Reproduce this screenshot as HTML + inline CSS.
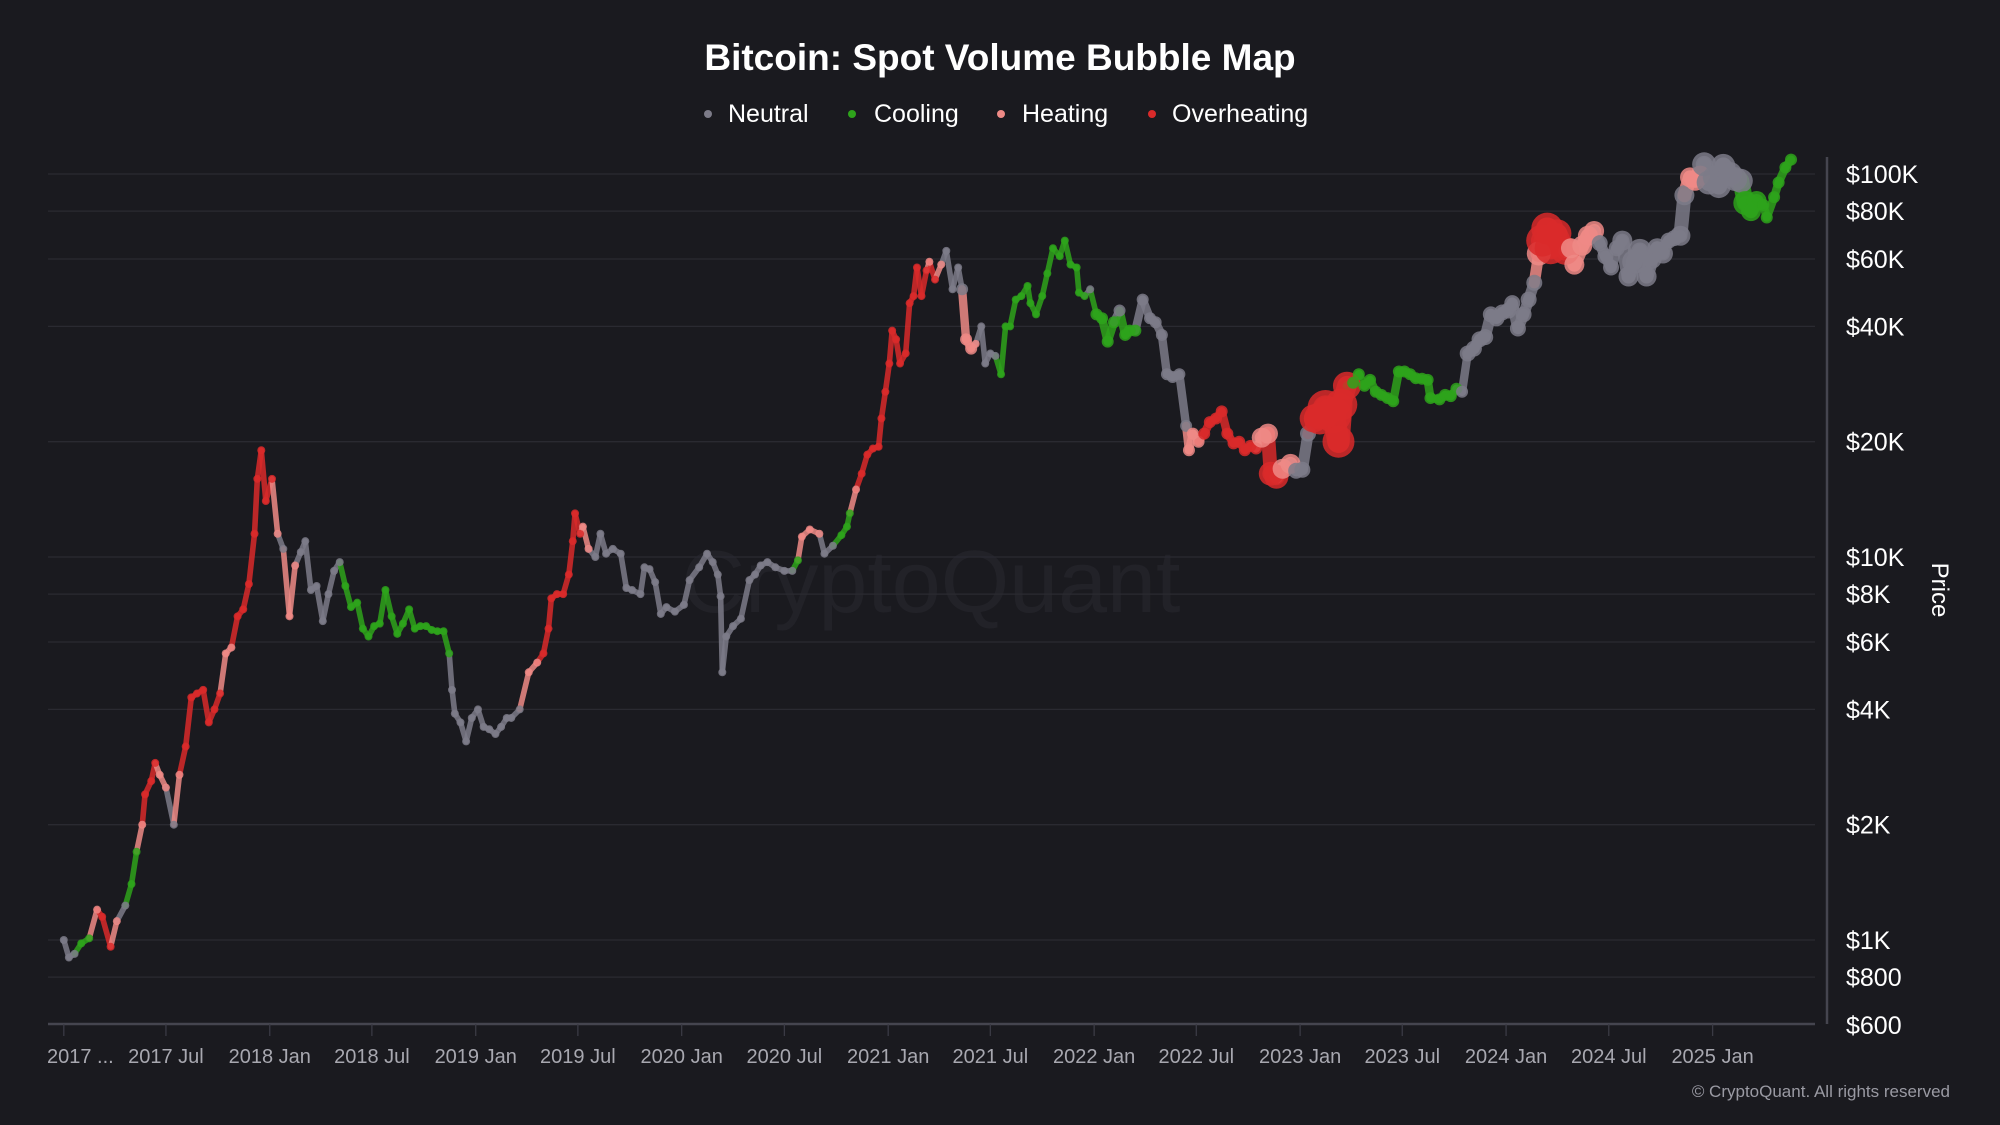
<!DOCTYPE html>
<html><head><meta charset="utf-8"><style>
html,body{margin:0;padding:0;background:#1a1a1f;}
svg{display:block;font-family:"Liberation Sans",sans-serif;}
</style></head><body>
<svg id="chart" width="2000" height="1125" viewBox="0 0 2000 1125">
<rect width="2000" height="1125" fill="#1a1a1f"/>
<text x="1000" y="70" text-anchor="middle" font-size="37" font-weight="bold" fill="#ffffff">Bitcoin: Spot Volume Bubble Map</text>
<g id="legend" font-size="25" fill="#ffffff">
<g><circle cx="708" cy="114" r="4" fill="#7c7b88"/><text x="728" y="122">Neutral</text></g>
<g><circle cx="852" cy="114" r="4" fill="#2ea31b"/><text x="874" y="122">Cooling</text></g>
<g><circle cx="1001" cy="114" r="4" fill="#ee8a86"/><text x="1022" y="122">Heating</text></g>
<g><circle cx="1152" cy="114" r="4" fill="#d92a2a"/><text x="1172" y="122">Overheating</text></g>
</g>
<text x="931" y="612" text-anchor="middle" font-size="88" fill="#222228">CryptoQuant</text>
<g id="grid"></g>
<g id="series"></g>
<g id="axes"></g>
<text transform="translate(1932,590) rotate(90)" text-anchor="middle" font-size="24" fill="#ffffff">Price</text>
<text x="1950" y="1097" text-anchor="end" font-size="17" fill="#9a9aa3">© CryptoQuant. All rights reserved</text>
</svg>
<script>
const yTickValues = [600, 800, 1000, 2000, 4000, 6000, 8000, 10000, 20000, 40000, 60000, 80000, 100000];
const yTickLabels = ["$600","$800","$1K","$2K","$4K","$6K","$8K","$10K","$20K","$40K","$60K","$80K","$100K"];
const xTickDates = ["2017-01-01","2017-07-01","2018-01-01","2018-07-01","2019-01-01","2019-07-01","2020-01-01","2020-07-01","2021-01-01","2021-07-01","2022-01-01","2022-07-01","2023-01-01","2023-07-01","2024-01-01","2024-07-01","2025-01-01"];
const xTickLabels = ["2017 ...","2017 Jul","2018 Jan","2018 Jul","2019 Jan","2019 Jul","2020 Jan","2020 Jul","2021 Jan","2021 Jul","2022 Jan","2022 Jul","2023 Jan","2023 Jul","2024 Jan","2024 Jul","2025 Jan"];

const dates = [
"2017-01-01","2017-01-10","2017-01-20","2017-02-01","2017-02-15","2017-03-01","2017-03-10","2017-03-25","2017-04-05","2017-04-20","2017-05-01","2017-05-10","2017-05-20","2017-05-25","2017-06-05","2017-06-12","2017-06-20","2017-07-01","2017-07-15","2017-07-25","2017-08-05","2017-08-15","2017-08-25","2017-09-05","2017-09-15","2017-09-25","2017-10-05","2017-10-15","2017-10-25","2017-11-05","2017-11-15","2017-11-25","2017-12-05","2017-12-10","2017-12-17","2017-12-25",
"2018-01-05","2018-01-15","2018-01-25","2018-02-05","2018-02-15","2018-02-25","2018-03-05","2018-03-15","2018-03-25","2018-04-05","2018-04-15","2018-04-25","2018-05-05","2018-05-15","2018-05-25","2018-06-05","2018-06-15","2018-06-25","2018-07-05","2018-07-15","2018-07-25","2018-08-05","2018-08-15","2018-08-25","2018-09-05","2018-09-15","2018-09-25","2018-10-05","2018-10-15","2018-10-25","2018-11-05","2018-11-15","2018-11-20","2018-11-25","2018-12-05","2018-12-15","2018-12-25",
"2019-01-05","2019-01-15","2019-01-25","2019-02-05","2019-02-15","2019-02-25","2019-03-05","2019-03-20","2019-04-05","2019-04-20","2019-05-01","2019-05-10","2019-05-15","2019-05-25","2019-06-05","2019-06-15","2019-06-22","2019-06-26","2019-07-05","2019-07-10","2019-07-20","2019-08-01","2019-08-10","2019-08-20","2019-09-01","2019-09-15","2019-09-25","2019-10-05","2019-10-20","2019-10-27","2019-11-05","2019-11-15","2019-11-25","2019-12-05","2019-12-20",
"2020-01-05","2020-01-15","2020-02-01","2020-02-15","2020-02-25","2020-03-05","2020-03-10","2020-03-13","2020-03-20","2020-04-01","2020-04-15","2020-04-30","2020-05-10","2020-05-20","2020-06-01","2020-06-15","2020-07-01","2020-07-15","2020-07-25","2020-08-01","2020-08-15","2020-09-01","2020-09-10","2020-09-25","2020-10-10","2020-10-20","2020-10-25","2020-11-05","2020-11-15","2020-11-25","2020-12-05","2020-12-15","2020-12-20","2020-12-27",
"2021-01-03","2021-01-08","2021-01-15","2021-01-22","2021-02-01","2021-02-08","2021-02-15","2021-02-21","2021-03-01","2021-03-10","2021-03-15","2021-03-25","2021-04-05","2021-04-14","2021-04-25","2021-05-05","2021-05-12","2021-05-19","2021-05-28","2021-06-05","2021-06-15","2021-06-22","2021-07-01","2021-07-10","2021-07-20","2021-07-28","2021-08-05","2021-08-15","2021-08-25","2021-09-05","2021-09-10","2021-09-20","2021-10-01","2021-10-10","2021-10-20","2021-11-01","2021-11-10","2021-11-20","2021-12-01","2021-12-05","2021-12-15","2021-12-25",
"2022-01-05","2022-01-15","2022-01-25","2022-02-05","2022-02-15","2022-02-25","2022-03-05","2022-03-15","2022-03-28","2022-04-10","2022-04-20","2022-05-01","2022-05-10","2022-05-20","2022-06-01","2022-06-13","2022-06-18","2022-06-25","2022-07-05","2022-07-15","2022-07-25","2022-08-05","2022-08-15","2022-08-25","2022-09-05","2022-09-15","2022-09-25","2022-10-05","2022-10-15","2022-10-25","2022-11-05","2022-11-10","2022-11-20","2022-12-01","2022-12-15","2022-12-25",
"2023-01-05","2023-01-15","2023-01-25","2023-02-05","2023-02-15","2023-03-01","2023-03-10","2023-03-15","2023-03-25","2023-04-05","2023-04-15","2023-04-25","2023-05-05","2023-05-15","2023-05-25","2023-06-05","2023-06-15","2023-06-25","2023-07-05","2023-07-15","2023-07-25","2023-08-05","2023-08-15","2023-08-20","2023-09-05","2023-09-15","2023-09-25","2023-10-05","2023-10-15","2023-10-25","2023-11-05","2023-11-15","2023-11-25","2023-12-05","2023-12-15","2023-12-25",
"2024-01-05","2024-01-12","2024-01-22","2024-02-01","2024-02-10","2024-02-20","2024-02-28","2024-03-05","2024-03-14","2024-03-20","2024-04-01","2024-04-15","2024-04-25","2024-05-01","2024-05-15","2024-05-25","2024-06-05","2024-06-15","2024-06-25","2024-07-05","2024-07-15","2024-07-25","2024-08-05","2024-08-15","2024-08-25","2024-09-06","2024-09-15","2024-09-25","2024-10-05","2024-10-15","2024-10-25","2024-11-05","2024-11-12","2024-11-22","2024-12-01","2024-12-10","2024-12-17","2024-12-25",
"2025-01-05","2025-01-12","2025-01-20","2025-02-01","2025-02-10","2025-02-20","2025-02-28","2025-03-10","2025-03-20","2025-04-01","2025-04-07","2025-04-20","2025-04-28","2025-05-10","2025-05-20"];

const prices = [
1000,900,920,980,1010,1200,1150,960,1120,1230,1400,1700,2000,2400,2600,2900,2700,2500,2000,2700,3200,4300,4400,4500,3700,4000,4400,5600,5800,7000,7300,8500,11500,16000,19000,14000,
16000,11500,10500,7000,9500,10300,11000,8200,8400,6800,8000,9200,9700,8400,7400,7600,6500,6200,6600,6700,8200,7000,6300,6700,7300,6500,6600,6600,6450,6400,6400,5600,4500,3900,3700,3300,3800,
4000,3600,3550,3450,3600,3800,3800,4000,5000,5300,5600,6500,7800,8000,8000,9000,11000,13000,11500,12000,10500,10000,11500,10200,10500,10200,8300,8200,8000,9400,9300,8600,7100,7400,7200,
7500,8700,9400,10200,9700,9000,7900,5000,6200,6600,6900,8700,9000,9500,9700,9400,9200,9200,9800,11300,11800,11500,10200,10700,11400,12000,13000,15000,16500,18500,19200,19400,23000,27000,
32000,39000,37000,32000,34000,46000,48000,57000,48000,56000,59000,53000,58000,63000,50000,57000,50000,37000,35000,36000,40000,32000,34000,33500,30000,40000,40000,47000,48000,51000,46000,43000,48000,55000,64000,61000,67000,58000,57000,49000,48000,50000,
43000,42000,36500,41000,44000,38000,39000,39000,47000,42000,41000,38000,30000,29500,30000,22000,19000,21000,20000,21000,22500,23000,24000,21000,19800,20000,19000,19500,19200,20500,21000,16500,16200,17000,17500,16800,
16900,21000,23000,23000,24500,23500,20000,25000,28000,28500,30000,28000,29000,27000,26500,26000,25500,30500,30500,30000,29300,29200,29000,26000,25800,26500,26300,27500,27000,34000,35000,37000,37500,43000,42000,43500,
44000,46000,39500,43000,47000,52000,62000,67000,72000,64000,70000,63000,64000,58000,65000,69000,71000,66000,61000,57000,64000,67000,54000,59000,63000,54000,60000,64000,62000,67000,68000,69000,88000,98000,96000,99000,106000,95000,
98000,93000,105000,100000,97000,96000,84000,80000,85000,83000,77000,87000,95000,104000,109000];

// N = Neutral, C = Cooling, H = Heating, O = Overheating (one letter per point)
const states = (
"NNNCCHOOHNCCHOOOHHNHOOOOOOOHHOOOOOOO" +
"OHNHHNNNNNNNNCCCCCCCCCCCCCCCCCCCNNNNN" +
"NNNNNNNNHHOOOOOOOOOHHNNNNNNNNNNNNNN" +
"NNNNNNNNNNNNNNNNNNCHHHNNCCCHOOOOOO" +
"OOOOOOOOOOHOHNNNNHHHNNNNCCCCCCCCCCCCCCCCCN" +
"CCCCNCCCNNNNNNNNHHHOOOOOOOOOOHHOOHHN" +
"NNOOOOOOOCCCCCCCCCCCCCCCCCCCNNNNNNNN" +
"NNNNNNHOOOOOHHHHHNNNNNNNNNNNNNNNNHHHNN" +
"NNNNNNCCCCCCCCC").split("");

// relative spot volume class per point (bubble radius scale)
const volumes = (
"222222222222222222222222222222222222" +
"2222222222222222222222222222222222222" +
"22222222222222222222222222222222222" +
"2222222222222222222222222222222222" +
"222222222222222233322222222222222222222222" +
"333333333333333333333333333335566554" +
"447899887333333333333333333334444444" +
"44444468887755555444455665555445555566666" +
"666655333333333").split("").map(Number);

const svgNS = "http://www.w3.org/2000/svg";
const X0 = 63.8, PX_PER_YEAR = 206.1;
const Y1K = 940, PX_PER_DECADE = 383;
const PLOT_L = 48, PLOT_R = 1815, PLOT_B = 1024;
const colors = {N:"#7c7b88", C:"#2ea31b", H:"#ee8a86", O:"#d92a2a"};
const stateNames = {N:"neutral", C:"cooling", H:"heating", O:"overheating"};

function xScale(d){
  const t = (Date.parse(d+"T00:00:00Z") - Date.parse("2017-01-01T00:00:00Z")) / (365.25*86400000);
  return X0 + t*PX_PER_YEAR;
}
function yScale(p){ return Y1K - (Math.log10(p)-3)*PX_PER_DECADE; }
function rScale(v){ return v*2; }

const grid = document.getElementById("grid");
const axes = document.getElementById("axes");
const series = document.getElementById("series");

yTickValues.forEach((v,i)=>{
  const y = yScale(v);
  if (v > 600) {
    const l = document.createElementNS(svgNS,"line");
    l.setAttribute("x1",PLOT_L); l.setAttribute("x2",PLOT_R);
    l.setAttribute("y1",y); l.setAttribute("y2",y);
    l.setAttribute("stroke","#2a2a31"); l.setAttribute("stroke-width","1.3");
    
    
    grid.appendChild(l);
  }
  const t = document.createElementNS(svgNS,"text");
  t.setAttribute("x",1846); t.setAttribute("y",y+9);
  t.setAttribute("font-size","25"); t.setAttribute("fill","#ffffff");
  t.textContent = yTickLabels[i];
  
  
  axes.appendChild(t);
});

const yAxis = document.createElementNS(svgNS,"line");
yAxis.setAttribute("x1",1827); yAxis.setAttribute("x2",1827);
yAxis.setAttribute("y1",157); yAxis.setAttribute("y2",PLOT_B);
yAxis.setAttribute("stroke","#45454f"); yAxis.setAttribute("stroke-width","2.5");


axes.appendChild(yAxis);
const xAxis = document.createElementNS(svgNS,"line");
xAxis.setAttribute("x1",PLOT_L); xAxis.setAttribute("x2",PLOT_R);
xAxis.setAttribute("y1",PLOT_B); xAxis.setAttribute("y2",PLOT_B);
xAxis.setAttribute("stroke","#45454f"); xAxis.setAttribute("stroke-width","2.5");


axes.appendChild(xAxis);

xTickDates.forEach((d,i)=>{
  const x = xScale(d);
  const tk = document.createElementNS(svgNS,"line");
  tk.setAttribute("x1",x); tk.setAttribute("x2",x);
  tk.setAttribute("y1",PLOT_B); tk.setAttribute("y2",PLOT_B+12);
  tk.setAttribute("stroke","#3a3a44"); tk.setAttribute("stroke-width","1.3");
  
  
  axes.appendChild(tk);
  const t = document.createElementNS(svgNS,"text");
  t.setAttribute("x", i===0 ? 47 : x); t.setAttribute("y",1063);
  t.setAttribute("text-anchor", i===0 ? "start" : "middle");
  t.setAttribute("font-size","20"); t.setAttribute("fill","#a8a8b0");
  t.textContent = xTickLabels[i];
  
  
  axes.appendChild(t);
});

const n = Math.min(dates.length, prices.length, states.length, volumes.length);
for (let i=1;i<n;i++){
  const l = document.createElementNS(svgNS,"line");
  l.setAttribute("x1",xScale(dates[i-1])); l.setAttribute("y1",yScale(prices[i-1]));
  l.setAttribute("x2",xScale(dates[i])); l.setAttribute("y2",yScale(prices[i]));
  l.setAttribute("stroke",colors[states[i]]);
  l.setAttribute("stroke-width", Math.max(4, rScale(Math.min(volumes[i],volumes[i-1]))*1.4));
  l.setAttribute("stroke-linecap","round");
  l.setAttribute("opacity","0.85");
  
  
  series.appendChild(l);
}
for (let i=0;i<n;i++){
  const c = document.createElementNS(svgNS,"circle");
  c.setAttribute("cx",xScale(dates[i]));
  c.setAttribute("cy",yScale(prices[i]));
  c.setAttribute("r",rScale(volumes[i]));
  c.setAttribute("fill",colors[states[i]]);
  c.setAttribute("opacity","0.85");
  
  
  series.appendChild(c);
}
</script>
</body></html>
